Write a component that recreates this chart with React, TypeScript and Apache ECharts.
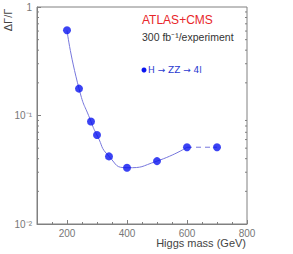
import React, { useEffect, useRef } from "react";
import * as echarts from "echarts";

const masses = [200, 240, 280, 300, 340, 400, 500, 600, 700];
const deltaGamma = [0.61, 0.177, 0.088, 0.066, 0.042, 0.033, 0.038, 0.051, 0.051];
const solidCount = 8; // curve drawn solid up to 600 GeV, dashed after
const xMajorTicks = [200, 400, 600, 800];
const yMinorTicks = [0.02, 0.03, 0.04, 0.05, 0.06, 0.07, 0.08, 0.09, 0.2, 0.3, 0.4, 0.5, 0.6, 0.7, 0.8, 0.9];

const FONT = "Liberation Sans, Arial, sans-serif";

export default function App() {
  const ref = useRef<HTMLDivElement>(null);
  useEffect(() => {
    if (!ref.current) return;
    const chart = echarts.init(ref.current, undefined, { renderer: "svg" });
    const pts = masses.map((m, i) => [m, deltaGamma[i]]);
    const option: any = {
      animation: false,
      backgroundColor: "#ffffff",
      grid: {
        left: 37,
        top: 7,
        right: 46,
        bottom: 30,
        show: true,
        borderColor: "#808080",
        borderWidth: 1,
        backgroundColor: "transparent",
      },
      xAxis: [
        {
          type: "value",
          min: 100,
          max: 800,
          interval: 50,
          axisLine: { show: true, lineStyle: { color: "#808080", width: 1 } },
          axisTick: { show: true, inside: true, length: 2, lineStyle: { color: "#808080" } },
          axisLabel: { show: false },
          splitLine: { show: false },
        },
        {
          type: "value",
          min: 100,
          max: 800,
          position: "bottom",
          axisLine: { show: false },
          axisTick: {
            show: true,
            inside: true,
            length: 4,
            customValues: xMajorTicks,
            lineStyle: { color: "#808080" },
          },
          axisLabel: {
            show: true,
            customValues: xMajorTicks,
            color: "#777",
            fontSize: 10,
            fontFamily: FONT,
            margin: 4,
          },
          splitLine: { show: false },
        },
      ],
      yAxis: {
        type: "log",
        logBase: 10,
        min: 0.01,
        max: 1,
        axisLine: { show: true, lineStyle: { color: "#808080", width: 1 } },
        axisTick: { show: true, inside: true, length: 4, lineStyle: { color: "#808080" } },
        axisLabel: {
          color: "#777",
          fontSize: 10,
          fontFamily: FONT,
          margin: 5,
          formatter: (v: number) => {
            const e = Math.round(Math.log10(v));
            if (e === 0) return "1";
            if (e === -1) return "10⁻¹";
            return "10⁻²";
          },
        },
        splitLine: { show: false },
      },
      series: [
        {
          type: "custom",
          xAxisIndex: 0,
          yAxisIndex: 0,
          silent: true,
          clip: false,
          data: yMinorTicks.map((v) => [100, v]),
          renderItem: (params: any, api: any) => {
            const v = api.value(1);
            const l = api.coord([100, v]);
            const r = api.coord([800, v]);
            return {
              type: "group",
              children: [
                { type: "line", shape: { x1: l[0], y1: l[1], x2: l[0] + 2, y2: l[1] }, style: { stroke: "#808080", lineWidth: 1 } },
                { type: "line", shape: { x1: r[0], y1: r[1], x2: r[0] - 2, y2: r[1] }, style: { stroke: "#808080", lineWidth: 1 } },
              ],
            };
          },
        },
        {
          type: "line",
          xAxisIndex: 0,
          data: pts.slice(0, solidCount),
          smooth: 0.6,
          showSymbol: false,
          lineStyle: { color: "#7777dd", width: 1 },
          z: 2,
        },
        {
          type: "line",
          xAxisIndex: 0,
          data: pts.slice(solidCount - 1),
          smooth: false,
          showSymbol: false,
          lineStyle: { color: "#7777dd", width: 1, type: [5, 4] },
          z: 2,
        },
        {
          type: "scatter",
          xAxisIndex: 0,
          data: pts,
          symbol: "circle",
          symbolSize: 8,
          itemStyle: { color: "#0a14f0" },
          z: 3,
        },
      ],
      graphic: [
        {
          type: "text",
          x: 8,
          y: 20,
          rotation: Math.PI / 2,
          style: { text: "ΔΓ/Γ", fill: "#444", font: `11px ${FONT}`, align: "center", verticalAlign: "middle" },
        },
        {
          type: "text",
          x: 246,
          y: 243,
          style: { text: "Higgs mass (GeV)", fill: "#444", font: `11px ${FONT}`, align: "right", verticalAlign: "middle" },
        },
        {
          type: "text",
          x: 142,
          y: 20,
          style: { text: "ATLAS+CMS", fill: "#e8262a", font: `12px ${FONT}`, align: "left", verticalAlign: "middle" },
        },
        {
          type: "text",
          x: 142,
          y: 37,
          style: { text: "300 fb⁻¹/experiment", fill: "#333", font: `10.5px ${FONT}`, align: "left", verticalAlign: "middle" },
        },
        {
          type: "circle",
          shape: { cx: 144, cy: 70, r: 2.5 },
          style: { fill: "#0a14f0" },
        },
        {
          type: "text",
          x: 148,
          y: 70,
          style: { text: "H → ZZ → 4l", fill: "#2a3ad0", font: `9px DejaVu Sans, sans-serif`, align: "left", verticalAlign: "middle" },
        },
      ],
    };
    chart.setOption(option);
    return () => chart.dispose();
  }, []);
  return (
    <div
      ref={ref}
      style={{ position: "fixed", left: 0, top: 0, width: 293, height: 254 }}
    />
  );
}
